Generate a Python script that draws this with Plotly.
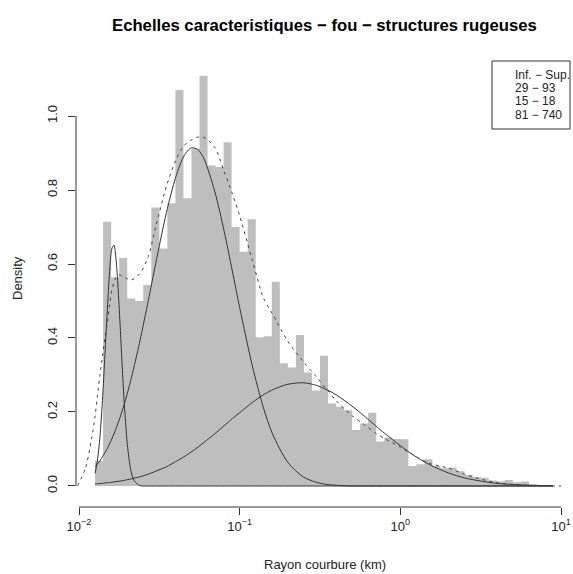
import numpy as np
import plotly.graph_objects as go

# histogramme (densite par unite de log10), bornes des classes en log10(km)
bin_edges_log10 = [-1.90, -1.85, -1.80, -1.75, -1.70, -1.65, -1.60, -1.55, -1.50, -1.45,
                   -1.40, -1.35, -1.30, -1.25, -1.20, -1.15, -1.10, -1.05, -1.00, -0.95,
                   -0.90, -0.85, -0.80, -0.75, -0.70, -0.65, -0.60, -0.55, -0.50, -0.45,
                   -0.40, -0.35, -0.30, -0.25, -0.20, -0.15, -0.10, -0.05, 0.00, 0.05,
                   0.10, 0.15, 0.20, 0.25, 0.30, 0.35, 0.40, 0.45, 0.50, 0.55,
                   0.60, 0.65, 0.70, 0.75, 0.80, 0.85, 0.90, 0.95]
bin_density = [0.068, 0.714, 0.564, 0.616, 0.507, 0.500, 0.543, 0.753, 0.642, 0.764,
               1.070, 0.778, 0.912, 1.109, 0.866, 0.862, 0.929, 0.700, 0.633, 0.721,
               0.402, 0.405, 0.552, 0.332, 0.320, 0.408, 0.307, 0.258, 0.352, 0.223,
               0.214, 0.205, 0.151, 0.169, 0.198, 0.120, 0.131, 0.127, 0.126, 0.054,
               0.059, 0.072, 0.054, 0.048, 0.050, 0.040, 0.030, 0.024, 0.022, 0.015,
               0.013, 0.016, 0.010, 0.012, 0.005, 0.003, 0.002]

# composantes du melange
curve_r_km = [0.0126, 0.013, 0.0135, 0.014, 0.0145, 0.015, 0.0155, 0.016, 0.0165, 0.017,
              0.0175, 0.018, 0.019, 0.02, 0.021, 0.022, 0.024, 0.027, 0.03, 0.035,
              0.04, 0.045, 0.05, 0.055, 0.06, 0.07, 0.08, 0.09, 0.1, 0.12,
              0.14, 0.16, 0.2, 0.25, 0.3, 0.35, 0.4, 0.5, 0.6, 0.7,
              0.8, 1.0, 1.2, 1.5, 2, 2.5, 3, 4, 5, 6,
              7, 8.9]
comp1 = [0.034, 0.067, 0.133, 0.232, 0.355, 0.475, 0.579, 0.641, 0.651, 0.613,
         0.537, 0.439, 0.245, 0.112, 0.043, 0.015, 0.001, 0.0, 0.0, 0.0,
         0.0, 0.0, 0.0, 0.0, 0.0, 0.0, 0.0, 0.0, 0.0, 0.0,
         0.0, 0.0, 0.0, 0.0, 0.0, 0.0, 0.0, 0.0, 0.0, 0.0,
         0.0, 0.0, 0.0, 0.0, 0.0, 0.0, 0.0, 0.0, 0.0, 0.0,
         0.0, 0.0]
comp2 = [0.052, 0.059, 0.068, 0.079, 0.090, 0.101, 0.114, 0.127, 0.141, 0.155,
         0.170, 0.185, 0.217, 0.251, 0.286, 0.322, 0.394, 0.501, 0.601, 0.739,
         0.835, 0.892, 0.914, 0.909, 0.884, 0.796, 0.689, 0.581, 0.482, 0.324,
         0.214, 0.141, 0.063, 0.024, 0.010, 0.004, 0.002, 0.0, 0.0, 0.0,
         0.0, 0.0, 0.0, 0.0, 0.0, 0.0, 0.0, 0.0, 0.0, 0.0,
         0.0, 0.0]
comp3 = [0.005, 0.006, 0.0065, 0.007, 0.008, 0.009, 0.009, 0.010, 0.011, 0.012,
         0.0125, 0.013, 0.015, 0.017, 0.019, 0.021, 0.025, 0.032, 0.040, 0.052,
         0.066, 0.079, 0.092, 0.105, 0.118, 0.141, 0.163, 0.182, 0.198, 0.226,
         0.246, 0.260, 0.275, 0.279, 0.272, 0.260, 0.246, 0.216, 0.188, 0.163,
         0.142, 0.109, 0.084, 0.059, 0.035, 0.022, 0.015, 0.007, 0.004, 0.0024,
         0.0015, 0.0007]

# densite lissee (pointilles)
kde_r_km = [0.0098, 0.011, 0.012, 0.0126, 0.013, 0.0135, 0.014, 0.0145, 0.015, 0.0155,
            0.016, 0.0165, 0.017, 0.0175, 0.018, 0.019, 0.02, 0.021, 0.022, 0.024,
            0.027, 0.03, 0.035, 0.04, 0.045, 0.05, 0.055, 0.06, 0.07, 0.08,
            0.09, 0.1, 0.12, 0.14, 0.16, 0.2, 0.25, 0.3, 0.35, 0.4,
            0.5, 0.6, 0.7, 0.8, 1.0, 1.2, 1.5, 2, 2.5, 3,
            4, 5, 6, 7, 10]
kde_density = [0.0, 0.05, 0.13, 0.19, 0.24, 0.30, 0.35, 0.40, 0.44, 0.49,
               0.53, 0.55, 0.565, 0.57, 0.57, 0.565, 0.56, 0.557, 0.56, 0.575,
               0.62, 0.70, 0.81, 0.88, 0.92, 0.935, 0.943, 0.942, 0.915, 0.85,
               0.79, 0.73, 0.61, 0.51, 0.465, 0.39, 0.335, 0.295, 0.26, 0.23,
               0.19, 0.165, 0.143, 0.128, 0.105, 0.084, 0.062, 0.048, 0.032, 0.021,
               0.009, 0.004, 0.002, 0.001, 0.0]

x_tickvals = [0.01, 0.1, 1, 10]
x_ticktext = ['10<sup>\u22122</sup>', '10<sup>\u22121</sup>', '10<sup>0</sup>', '10<sup>1</sup>']
y_tickvals = [0.0, 0.2, 0.4, 0.6, 0.8, 1.0]
y_ticktext = ['0.0', '0.2', '0.4', '0.6', '0.8', '1.0']

legend_lines = ['Inf. \u2212 Sup.', '29 \u2212 93', '15 \u2212 18', '81 \u2212 740']

title = 'Echelles caracteristiques \u2212 fou \u2212 structures rugeuses'
xlabel = 'Rayon courbure (km)'
ylabel = 'Density'

FONT = 'Liberation Sans, Arial, sans-serif'
INK = '#222222'
XRANGE = [-2.0187, 1.0746]
YRANGE = [-0.0568, 1.1811]

edges_km = [10 ** e for e in bin_edges_log10]

fig = go.Figure()

# barres de l'histogramme en escalier rempli
fig.add_trace(go.Scatter(
    x=edges_km,
    y=bin_density + [bin_density[-1]],
    mode='lines',
    line=dict(shape='hv', width=0, color='#bebebe'),
    fill='tozeroy',
    fillcolor='#bebebe',
    hoverinfo='skip'
))

for comp in [comp1, comp2, comp3]:
    fig.add_trace(go.Scatter(
        x=curve_r_km, y=comp, mode='lines',
        line=dict(color='#333333', width=1, shape='spline', smoothing=0.8)
    ))

fig.add_trace(go.Scatter(
    x=kde_r_km, y=kde_density, mode='lines',
    line=dict(color='#444444', width=1, dash='3px,4px', shape='spline', smoothing=0.8)
))

def xpaper(v):
    return (np.log10(v) - XRANGE[0]) / (XRANGE[1] - XRANGE[0])

shapes = [
    # axe x (de 10^-2 a 10^1) et axe y (de 0 a 1), facon R
    dict(type='line', xref='paper', yref='paper',
         x0=xpaper(x_tickvals[0]), x1=xpaper(x_tickvals[-1]), y0=0, y1=0,
         line=dict(color='#333333', width=1)),
    dict(type='line', xref='paper', yref='y',
         x0=0, x1=0, y0=y_tickvals[0], y1=y_tickvals[-1],
         line=dict(color='#333333', width=1)),
    # cadre de la legende
    dict(type='rect', xref='paper', yref='paper',
         x0=0.837, x1=0.994, y0=0.8253, y1=0.9738,
         line=dict(color='#333333', width=1), fillcolor='white'),
]

annotations = [
    dict(text='<b>' + title + '</b>', x=0.5, y=1.0524, xref='paper', yref='paper',
         showarrow=False, xanchor='center', yanchor='middle',
         font=dict(size=16.7, color='black', family=FONT)),
    dict(text=xlabel, x=0.5, y=-0.1266, xref='paper', yref='paper',
         showarrow=False, xanchor='center', yanchor='middle',
         font=dict(size=13, color=INK, family=FONT)),
    dict(text=ylabel, x=-0.1187, y=0.5, xref='paper', yref='paper', textangle=-90,
         showarrow=False, xanchor='center', yanchor='middle',
         font=dict(size=13, color=INK, family=FONT)),
]
legend_y = [0.9432, 0.9148, 0.8854, 0.8559]
for txt, ly in zip(legend_lines, legend_y):
    annotations.append(dict(text=txt, x=0.8793, y=ly, xref='paper', yref='paper',
                            showarrow=False, xanchor='left', yanchor='middle',
                            font=dict(size=12, color=INK, family=FONT)))

fig.update_layout(
    width=573, height=574,
    margin=dict(l=76, r=0, t=49, b=67),
    plot_bgcolor='white', paper_bgcolor='white',
    showlegend=False,
    font=dict(family=FONT, size=13, color=INK),
    xaxis=dict(type='log', range=XRANGE, tickvals=x_tickvals, ticktext=x_ticktext,
               ticks='outside', ticklen=7, tickwidth=1, tickcolor='#333333',
               showgrid=False, zeroline=False, showline=False,
               tickfont=dict(size=13)),
    yaxis=dict(range=YRANGE, tickvals=y_tickvals, ticktext=y_ticktext, tickangle=-90,
               ticks='outside', ticklen=7, tickwidth=1, tickcolor='#333333',
               showgrid=False, zeroline=False, showline=False,
               ticklabelstandoff=6, tickfont=dict(size=13)),
    shapes=shapes,
    annotations=annotations,
)

# pas de marge de page autour de la figure, pas de barre d'outils
fig.write_html("out.html", config={'displayModeBar': False},
               post_script="document.body.style.margin='0';"
               "document.body.style.overflow='hidden';"
               "document.documentElement.style.overflow='hidden';")
